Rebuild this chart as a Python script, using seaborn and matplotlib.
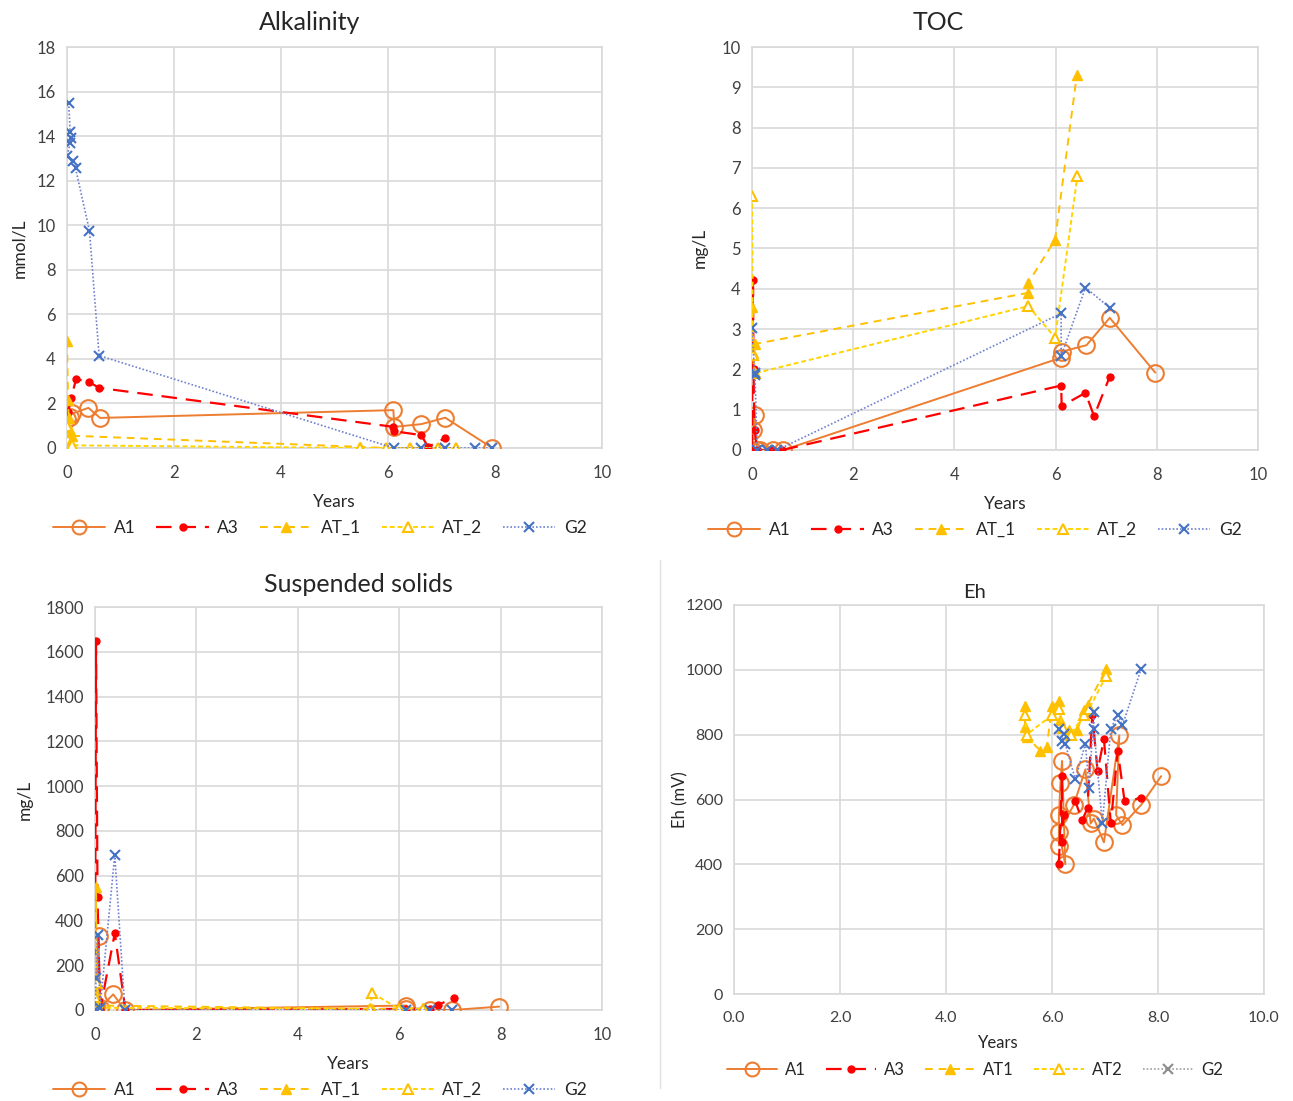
import numpy as np
import pandas as pd
import matplotlib
matplotlib.use("Agg")
import matplotlib.pyplot as plt
from matplotlib.lines import Line2D
import seaborn as sns

# ---------------- data ----------------
series_names = ["A1", "A3", "AT_1", "AT_2", "G2"]
eh_names = ["A1", "A3", "AT1", "AT2", "G2"]

# Alkalinity (mmol/L)
alk_A1_x = [0.0, 0.05, 0.1, 0.4, 0.62, 6.1, 6.12, 6.62, 7.07, 7.95]
alk_A1_y = [1.3, 1.4, 1.55, 1.8, 1.35, 1.7, 0.95, 1.07, 1.36, 0.0]
alk_A3_x = [0.02, 0.08, 0.17, 0.42, 0.6, 6.1, 6.12, 6.62, 6.75, 7.07]
alk_A3_y = [1.6, 2.25, 3.1, 2.95, 2.7, 0.95, 0.75, 0.58, 0.05, 0.45]
alk_AT1_x = [0.0, 0.02, 0.03, 0.05, 0.1, 5.48, 5.97, 6.41, 6.93, 7.28]
alk_AT1_y = [4.8, 2.15, 1.35, 0.8, 0.55, 0.05, 0.0, 0.0, 0.0, 0.0]
alk_AT2_x = [0.0, 0.02, 0.05, 0.1, 5.48, 5.97, 6.41, 6.93, 7.28]
alk_AT2_y = [1.0, 0.35, 0.15, 0.12, 0.0, 0.0, 0.0, 0.0, 0.0]
alk_G2_x = [0.03, 0.06, 0.07, 0.06, 0.0, 0.12, 0.16, 0.42, 0.6, 6.11, 6.62, 7.07, 7.63, 7.95]
alk_G2_y = [15.5, 14.2, 13.9, 13.7, 13.1, 12.9, 12.55, 9.75, 4.15, 0.0, 0.0, 0.0, 0.0, 0.0]

# TOC (mg/L)
toc_A1_x = [0.0, 0.02, 0.05, 0.1, 0.16, 0.42, 0.62, 6.11, 6.12, 6.61, 7.07, 7.97]
toc_A1_y = [0.0, 0.5, 0.88, 0.0, 0.0, 0.0, 0.0, 2.29, 2.44, 2.6, 3.28, 1.92]
toc_A3_x = [0.0, 0.02, 0.03, 0.05, 0.1, 0.4, 0.6, 6.11, 6.12, 6.59, 6.76, 7.07]
toc_A3_y = [0.0, 4.23, 2.0, 0.5, 0.0, 0.0, 0.0, 1.6, 1.09, 1.42, 0.84, 1.82]
toc_AT1_x = [0.0, 0.02, 0.05, 5.46, 5.46, 5.99, 6.42]
toc_AT1_y = [3.55, 2.4, 2.63, 3.9, 4.15, 5.22, 9.31]
toc_AT2_x = [0.0, 0.02, 0.05, 5.46, 5.99, 6.43]
toc_AT2_y = [6.3, 2.35, 1.9, 3.57, 2.79, 6.79]
toc_G2_x = [0.0, 0.05, 0.06, 0.1, 0.3, 0.5, 6.11, 6.11, 6.59, 7.07]
toc_G2_y = [3.02, 1.92, 1.85, 0.0, 0.0, 0.0, 3.39, 2.33, 4.03, 3.53]

# Suspended solids (mg/L)
ss_A1_x = [0.0, 0.02, 0.07, 0.1, 0.36, 0.59, 6.14, 6.14, 6.6, 7.05, 7.97]
ss_A1_y = [15, 20, 330, 10, 70, 0, 20, 5, 0, 0, 15]
ss_A3_x = [0.0, 0.02, 0.05, 0.1, 0.39, 0.6, 6.14, 6.6, 6.76, 7.09]
ss_A3_y = [0, 1646, 506, 0, 343, 0, 5, 5, 22, 55]
ss_AT1_x = [0.0, 0.02, 0.04, 5.47, 6.0, 6.46]
ss_AT1_y = [90, 551, 20, 5, 5, 10]
ss_AT2_x = [0.0, 0.03, 0.05, 5.42, 5.47, 6.0, 6.46]
ss_AT2_y = [60, 120, 10, 5, 75, 5, 5]
ss_G2_x = [0.0, 0.02, 0.05, 0.1, 0.39, 0.59, 6.14, 6.6, 7.05]
ss_G2_y = [0, 141, 335, 10, 693, 0, 0, 0, 0]

# Eh (mV)
eh_A1_x = [6.13, 6.13, 6.16, 6.19, 6.25, 6.13, 6.41, 6.63, 6.73, 6.79, 6.98, 7.27, 7.21, 7.33, 7.68, 8.06]
eh_A1_y = [458, 552, 651, 719, 400, 500, 583, 693, 526, 541, 468, 798, 552, 521, 583, 672]
eh_A3_x = [6.13, 6.19, 6.19, 6.22, 6.44, 6.57, 6.67, 6.76, 6.86, 6.98, 7.11, 7.24, 7.37, 7.68]
eh_A3_y = [400, 672, 468, 552, 594, 536, 573, 861, 688, 787, 526, 751, 594, 604]
eh_AT1_x = [5.49, 5.49, 5.52, 5.78, 5.9, 6.0, 6.13, 6.16, 6.32, 6.48, 6.6, 6.67, 7.02]
eh_AT1_y = [887, 824, 793, 751, 761, 887, 903, 845, 814, 814, 876, 892, 1002]
eh_AT2_x = [5.49, 5.52, 6.0, 6.13, 6.2, 6.35, 6.6, 6.7, 7.02]
eh_AT2_y = [860, 800, 860, 880, 820, 800, 860, 880, 980]
eh_G2_x = [6.13, 6.22, 6.19, 6.25, 6.44, 6.63, 6.7, 6.79, 6.79, 6.95, 7.11, 7.24, 7.33, 7.68]
eh_G2_y = [819, 803, 782, 772, 662, 772, 636, 871, 819, 526, 819, 861, 829, 1002]

# ---------------- style ----------------
sns.set_theme(style="white")
plt.rcParams["font.family"] = ["Lato", "DejaVu Sans"]

W, H = 1293, 1101
fig = plt.figure(figsize=(W / 100, H / 100), dpi=100)
fig.patch.set_facecolor("white")

TXT = "#262626"
TICK = "#404040"
GRID = "#D9D9D9"

styles = {
    0: dict(color="#ED7D31", linestyle="-", marker="o", mfc="none", mec="#ED7D31", ms=12, mew=1.5, lw=1.4),
    1: dict(color="#FF0000", linestyle=(0, (7, 4)), marker="o", mfc="#FF0000", mec="#FF0000", ms=5, mew=1, lw=1.6),
    2: dict(color="#FFC000", linestyle=(0, (4, 3)), marker="^", mfc="#FFC000", mec="#FFC000", ms=7, mew=1, lw=1.4),
    3: dict(color="#FFD400", linestyle=(0, (2.5, 1.5)), marker="^", mfc="white", mec="#FFC000", ms=7, mew=1.5, lw=1.4),
    4: dict(color="#7080D0", linestyle=(0, (1, 1.2)), marker="x", mfc="#4472C4", mec="#4472C4", ms=7, mew=1.5, lw=1.2),
}


def px_axes(l, r, t, b):
    return fig.add_axes([l / W, 1 - b / H, (r - l) / W, (b - t) / H])


def style_ax(ax, xmax, ymax, ystep, xfmt=None, tsize=12):
    ax.set_xlim(0, xmax)
    ax.set_ylim(0, ymax)
    ax.set_xticks(np.arange(0, xmax + 0.001, 2))
    ax.set_yticks(np.arange(0, ymax + 0.001, ystep))
    if xfmt:
        ax.set_xticklabels([xfmt.format(v) for v in np.arange(0, xmax + 0.001, 2)])
    ax.grid(True, color=GRID, lw=1.2)
    ax.set_axisbelow(True)
    for s in ax.spines.values():
        s.set_color(GRID)
        s.set_linewidth(1.2)
    ax.tick_params(axis="x", length=0, labelsize=tsize, colors=TICK, pad=12)
    ax.tick_params(axis="y", length=0, labelsize=tsize, colors=TICK, pad=8)


def draw(ax, xs, ys, labels):
    for i, (x, y, lab) in enumerate(zip(xs, ys, labels)):
        st = styles[i]
        df = pd.DataFrame({"x": x, "y": y})
        sns.lineplot(data=df, x="x", y="y", ax=ax, sort=False, estimator=None,
                     label=lab, legend=False, zorder=3 + i, **st)
    ax.set_xlabel("")
    ax.set_ylabel("")


def add_legend(ax, labels, cx, cy, fs=12.5, eh=False):
    handles = []
    for i, lab in enumerate(labels):
        st = dict(styles[i])
        if eh and i == 4:
            st["color"] = "#A0A0A0"
            st["mec"] = "#8C8C8C"
        if i == 0:
            st["ms"] = 10
        handles.append(Line2D([0], [0], **st))
    fig.legend(handles, labels, loc="center", bbox_to_anchor=(cx / W, 1 - cy / H),
               ncol=5, frameon=False, fontsize=fs, handlelength=3.0, columnspacing=1.2,
               handletextpad=0.5, labelcolor=TXT)


# Panel 1: Alkalinity
ax1 = px_axes(67, 602, 47, 448)
draw(ax1, [alk_A1_x, alk_A3_x, alk_AT1_x, alk_AT2_x, alk_G2_x],
     [alk_A1_y, alk_A3_y, alk_AT1_y, alk_AT2_y, alk_G2_y], series_names)
style_ax(ax1, 10, 18, 2)
fig.text(310 / W, 1 - 23 / H, "Alkalinity", ha="center", va="center", fontsize=18, color=TXT)
fig.text(334 / W, 1 - 502 / H, "Years", ha="center", va="center", fontsize=12.5, color=TXT)
fig.text(19 / W, 1 - 248 / H, "mmol/L", ha="center", va="center", rotation=90, fontsize=12.5, color=TXT)
add_legend(ax1, series_names, 320, 528)

# Panel 2: TOC
ax2 = px_axes(752, 1258, 47, 450)
draw(ax2, [toc_A1_x, toc_A3_x, toc_AT1_x, toc_AT2_x, toc_G2_x],
     [toc_A1_y, toc_A3_y, toc_AT1_y, toc_AT2_y, toc_G2_y], series_names)
style_ax(ax2, 10, 10, 1)
fig.text(938 / W, 1 - 23 / H, "TOC", ha="center", va="center", fontsize=18, color=TXT)
fig.text(1005 / W, 1 - 504 / H, "Years", ha="center", va="center", fontsize=12.5, color=TXT)
fig.text(700 / W, 1 - 248 / H, "mg/L", ha="center", va="center", rotation=90, fontsize=12.5, color=TXT)
add_legend(ax2, series_names, 975, 530)

# Panel 3: Suspended solids
ax3 = px_axes(95, 602, 607, 1010)
draw(ax3, [ss_A1_x, ss_A3_x, ss_AT1_x, ss_AT2_x, ss_G2_x],
     [ss_A1_y, ss_A3_y, ss_AT1_y, ss_AT2_y, ss_G2_y], series_names)
style_ax(ax3, 10, 1800, 200)
fig.text(358 / W, 1 - 584 / H, "Suspended solids", ha="center", va="center", fontsize=18, color=TXT)
fig.text(348 / W, 1 - 1064 / H, "Years", ha="center", va="center", fontsize=12.5, color=TXT)
fig.text(25 / W, 1 - 800 / H, "mg/L", ha="center", va="center", rotation=90, fontsize=12.5, color=TXT)
add_legend(ax3, series_names, 320, 1090)

# Panel 4: Eh
ax4 = px_axes(734, 1264, 605, 994)
draw(ax4, [eh_A1_x, eh_A3_x, eh_AT1_x, eh_AT2_x, eh_G2_x],
     [eh_A1_y, eh_A3_y, eh_AT1_y, eh_AT2_y, eh_G2_y], eh_names)
style_ax(ax4, 10, 1200, 200, xfmt="{:.1f}", tsize=11.5)
fig.text(975 / W, 1 - 593 / H, "Eh", ha="center", va="center", fontsize=14.5, color=TXT)
fig.text(998 / W, 1 - 1043 / H, "Years", ha="center", va="center", fontsize=12, color=TXT)
fig.text(680 / W, 1 - 800 / H, "Eh (mV)", ha="center", va="center", rotation=90, fontsize=12, color=TXT)
add_legend(ax4, eh_names, 975, 1070, fs=12, eh=True)

# separator line
fig.add_artist(Line2D([660 / W, 660 / W], [1 - 1088 / H, 1 - 560 / H], color="#E0E0E0", lw=1))

fig.savefig("out.png", dpi=100, facecolor="white")
